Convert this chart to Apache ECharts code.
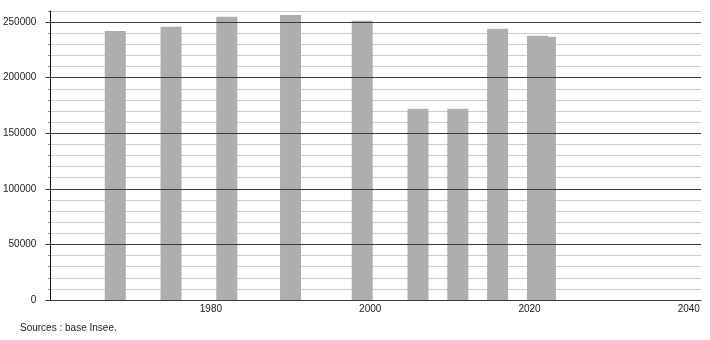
<!DOCTYPE html>
<html>
<head>
<meta charset="utf-8">
<script src="https://cdn.jsdelivr.net/npm/echarts@6/dist/echarts.min.js"></script>
<style>
html,body{margin:0;padding:0;background:#fff;}
#c{width:710px;height:340px;}
</style>
</head>
<body>
<div id="c"></div>
<script>
const years = [1968, 1975, 1982, 1990, 1999, 2006, 2011, 2016, 2022, 2021];
const population = [242000, 245800, 254800, 256500, 251200, 172000, 172000, 244000, 236800, 237700];
const yTickLabels = [0, 50000, 100000, 150000, 200000, 250000];
const xTickLabels = [1980, 2000, 2020, 2040];
const sourceText = 'Sources : base Insee.';

const chart = echarts.init(document.getElementById('c'), null, {renderer: 'canvas'});
const font = 'Liberation Sans, Arial, sans-serif';
const minorColors = [];
for (let i = 0; i <= 26; i++) minorColors.push(i % 5 === 0 && i < 26 ? 'rgba(0,0,0,0)' : '#cccccc');

chart.setOption({
  animation: false,
  backgroundColor: '#ffffff',
  grid: {left: 50, right: 9, top: 11, bottom: 40},
  xAxis: {
    type: 'value',
    min: 1959.85,
    max: 2041.53,
    axisLine: {show: true, lineStyle: {color: '#111', width: 1}},
    axisTick: {show: false},
    splitLine: {show: false},
    axisLabel: {
      customValues: xTickLabels,
      formatter: v => String(v),
      color: '#222', fontSize: 10, fontFamily: font, margin: 4
    }
  },
  yAxis: [
    {
      type: 'value',
      min: 0,
      max: 260000,
      interval: 10000,
      z: 3,
      axisLine: {show: true, lineStyle: {color: '#111', width: 1}},
      axisTick: {show: true, customValues: yTickLabels, length: 5, lineStyle: {color: '#3a3a3a'}},
      axisLabel: {
        customValues: yTickLabels,
        formatter: v => String(v),
        color: '#222', fontSize: 10, fontFamily: font, margin: 14
      },
      splitLine: {show: true, lineStyle: {color: '#3a3a3a', width: 1}}
    },
    {
      type: 'value',
      position: 'left',
      min: 0,
      max: 260000,
      interval: 10000,
      axisLine: {show: false},
      axisTick: {show: true, length: 2, lineStyle: {color: '#555'}},
      axisLabel: {show: false},
      splitLine: {show: true, lineStyle: {color: minorColors, width: 1}}
    }
  ],
  series: [{
    type: 'bar',
    yAxisIndex: 0,
    barWidth: 21,
    itemStyle: {color: '#aeaeae'},
    data: years.map((y, i) => [y, population[i]])
  }],
  graphic: [{
    type: 'text',
    left: 20,
    top: 323,
    style: {text: sourceText, fill: '#222', font: '10px ' + font}
  }]
});
</script>
</body>
</html>
